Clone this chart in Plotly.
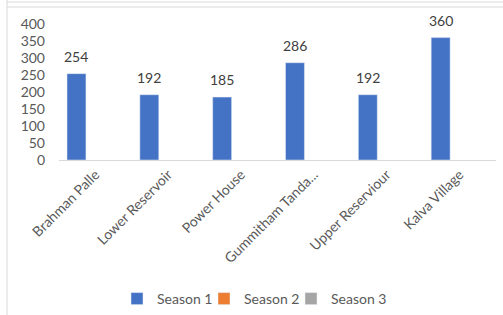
import plotly.graph_objects as go

categories = ["Brahman Palle", "Lower Reservoir", "Power House",
              "Gummitham Tanda...", "Upper Reserviour", "Kalva Village"]
season1 = [254, 192, 185, 286, 192, 360]
season2 = [None] * 6
season3 = [None] * 6
y_ticks = [0, 50, 100, 150, 200, 250, 300, 350, 400]

W, H = 503, 315
L, R, T, B = 59, 7, 24, 155
pw, ph = W - L - R, H - T - B
BARGAP = 0.22
N_SERIES = 3

def px(x):
    return (x - L) / pw

def py(y):
    return (H - B - y) / ph

font_family = "Lato, 'Open Sans', sans-serif"
gray_text = "#595959"

fig = go.Figure()
fig.add_trace(go.Bar(name="Season 1", x=categories, y=season1, marker_color="#4472C4",
                     legend="legend"))
fig.add_trace(go.Bar(name="Season 2", x=categories, y=season2, marker_color="#ED7D31",
                     legend="legend2"))
fig.add_trace(go.Bar(name="Season 3", x=categories, y=season3, marker_color="#A5A5A5",
                     legend="legend3"))

# data labels above the Season 1 bars
bar_w = (1 - BARGAP) / N_SERIES
for i, v in enumerate(season1):
    fig.add_annotation(x=i - bar_w, y=v, text=str(v), showarrow=False,
                       yanchor="bottom", yshift=7,
                       font=dict(size=14, color="#404040", family=font_family))

shapes = [
    dict(type="line", xref="paper", yref="paper", x0=px(7), x1=px(503), y0=py(2), y1=py(2),
         line=dict(color="#d9d9d9", width=1)),
    dict(type="line", xref="paper", yref="paper", x0=px(7), x1=px(503), y0=py(7), y1=py(7),
         line=dict(color="#d9d9d9", width=1)),
    dict(type="line", xref="paper", yref="paper", x0=px(7), x1=px(7), y0=py(0), y1=py(315),
         line=dict(color="#d9d9d9", width=1)),
]

def legend_at(left_px):
    return dict(orientation="h", x=px(left_px), xanchor="left", y=py(299), yanchor="middle",
                font=dict(size=14, color=gray_text), itemwidth=30,
                bgcolor="rgba(0,0,0,0)")

fig.update_layout(
    width=W, height=H,
    margin=dict(l=L, r=R, t=T, b=B, autoexpand=False),
    paper_bgcolor="white", plot_bgcolor="white",
    barmode="group", bargap=BARGAP, bargroupgap=0,
    font=dict(family=font_family, size=14, color=gray_text),
    showlegend=True,
    legend=legend_at(117),
    legend2=legend_at(204),
    legend3=legend_at(291),
    shapes=shapes,
    xaxis=dict(tickangle=-45, showline=True, linecolor="#d9d9d9", linewidth=1,
               ticks="", tickfont=dict(size=14, color=gray_text), showgrid=False),
    yaxis=dict(range=[0, 400], tickvals=y_ticks, showgrid=False, zeroline=False,
               showline=False, ticks="", tickfont=dict(size=14, color=gray_text),
               ticklabelstandoff=13),
)

fig.write_html("out.html", config={"displayModeBar": False},
               post_script="document.body.style.margin='0';")
